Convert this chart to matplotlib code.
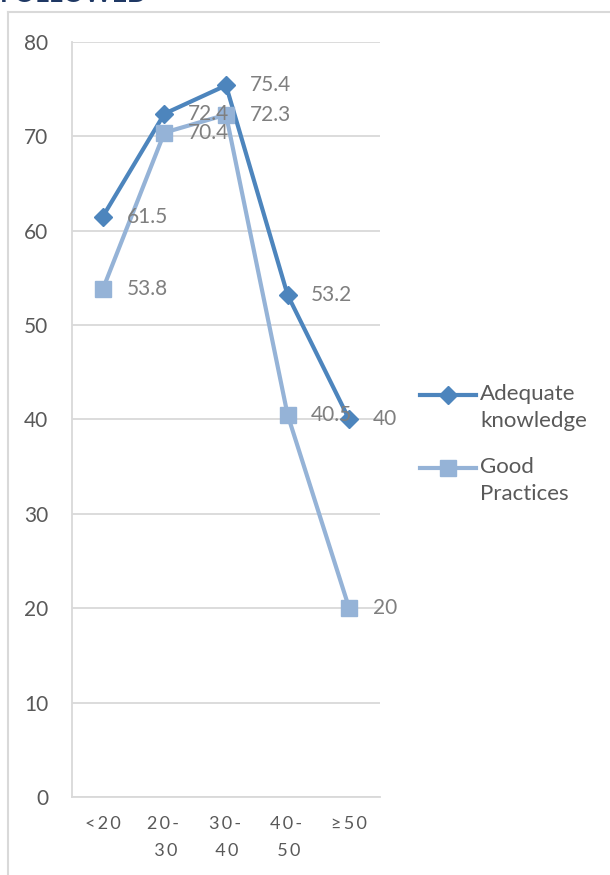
# Recreacion del grafico de conocimiento y practicas por edad
import matplotlib.pyplot as plt
from matplotlib.lines import Line2D

plt.rcParams['font.family'] = ['Lato', 'DejaVu Sans']

# Datos
grupos = ['<20', '20-\n30', '30-\n40', '40-\n50', '≥50']
conocimiento = [61.5, 72.4, 75.4, 53.2, 40]
practicas = [53.8, 70.4, 72.3, 40.5, 20]
etiquetas_conoc = ['61.5', '72.4', '75.4', '53.2', '40']
etiquetas_pract = ['53.8', '70.4', '72.3', '40.5', '20']
series = ['Adequate\nknowledge', 'Good\nPractices']

azul = '#4D85BD'
celeste = '#95B3D7'
gris_txt = '#7F7F7F'
gris_eje = '#595959'
gris_lin = '#D9D9D9'

W, H = 610, 875
fig = plt.figure(figsize=(W / 100, H / 100), dpi=100)
ax = fig.add_axes([72/W, 78/H, 308/W, 755/H])

x = list(range(len(grupos)))
ax.plot(x, conocimiento, color=azul, lw=3, marker='D', ms=9, zorder=3)
ax.plot(x, practicas, color=celeste, lw=3, marker='s', ms=11, zorder=3)

# etiquetas de datos a la derecha de cada punto (encima de las lineas)
for xi, v, t in zip(x, conocimiento, etiquetas_conoc):
    ax.annotate(t, (xi, v), xytext=(17, 0), textcoords='offset points',
                va='center', ha='left', fontsize=15, color=gris_txt, zorder=5)
for xi, v, t in zip(x, practicas, etiquetas_pract):
    ax.annotate(t, (xi, v), xytext=(17, 0), textcoords='offset points',
                va='center', ha='left', fontsize=15, color=gris_txt, zorder=5)

ax.set_xlim(-0.5, 4.5)
ax.set_ylim(0, 80)
ax.set_yticks(range(0, 81, 10))
ax.set_xticks(x)
# letras separadas como en el original
ax.set_xticklabels(['\u2009'.join(g) for g in grupos], fontsize=13,
                   color=gris_eje, linespacing=1.85)
ax.tick_params(axis='y', length=0, pad=17, labelsize=15, labelcolor=gris_eje)
ax.tick_params(axis='x', length=0, pad=14)
ax.grid(axis='y', color=gris_lin, lw=1.3)
ax.set_axisbelow(True)
for s in ['top', 'right']:
    ax.spines[s].set_visible(False)
for s in ['left', 'bottom']:
    ax.spines[s].set_color(gris_lin)
    ax.spines[s].set_linewidth(1.3)

# leyenda a mano: la linea va alineada con la primera linea del texto
estilos = [(azul, 'D', 9), (celeste, 's', 11)]
y_leyenda = [395, 468]
for (col, mk, ms), nombre, yp in zip(estilos, series, y_leyenda):
    yf = 1 - yp / H
    fig.add_artist(Line2D([420/W, 476/W], [yf, yf], color=col, lw=3))
    fig.add_artist(Line2D([448/W], [yf], color=col, marker=mk, ms=ms))
    fig.text(480/W, yf + 11/H, nombre, fontsize=16, color=gris_eje,
             ha='left', va='top', linespacing=1.45)

# marco exterior
fig.add_artist(Line2D([8/W, 8/W], [0, 1 - 12/H], color=gris_lin, lw=1.5))
fig.add_artist(Line2D([8/W, 1], [1 - 12/H, 1 - 12/H], color=gris_lin, lw=1.5))

# titulo cortado arriba
fig.text(0, 1 + 6/H, 'FOLLOWED', fontsize=19, fontweight='bold',
         color='#1F3864', ha='left', va='center')

fig.savefig('out.png', dpi=100)
